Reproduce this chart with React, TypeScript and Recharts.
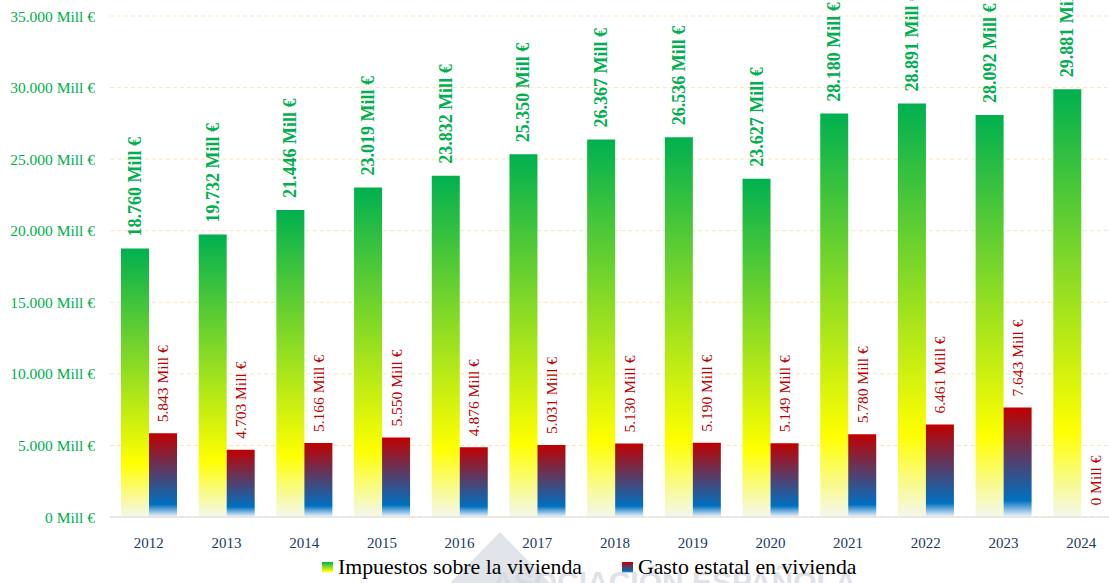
import React from 'react';
import { ComposedChart, Bar, XAxis, YAxis, CartesianGrid, Legend, LabelList, Cell } from 'recharts';

const years = ['2012', '2013', '2014', '2015', '2016', '2017', '2018', '2019', '2020', '2021', '2022', '2023', '2024'];
const impuestos = [18760, 19732, 21446, 23019, 23832, 25350, 26367, 26536, 23627, 28180, 28891, 28092, 29881];
const gasto = [5843, 4703, 5166, 5550, 4876, 5031, 5130, 5190, 5149, 5780, 6461, 7643, 0];
const yTicks = [0, 5000, 10000, 15000, 20000, 25000, 30000, 35000];
const seriesNames = ['Impuestos sobre la vivienda', 'Gasto estatal en vivienda'];

const data = years.map((y, i) => ({ year: y, impuestos: impuestos[i], gasto: gasto[i] }));

const FONT = "'Liberation Serif', 'DejaVu Serif', serif";
const GREEN = '#00b050';
const RED = '#c00000';

const fmt = (v: number) => String(v).replace(/\B(?=(\d{3})+(?!\d))/g, '.');

const makeLabel = (color: string, weight: string, size: number, gap: number) => (props: any) => {
  const { x, y, width, height, value } = props;
  const cx = Number(x) + Number(width) / 2;
  const top = Math.min(Number(y), Number(y) + Number(height || 0));
  const ty = top - gap;
  return (
    <text
      x={cx}
      y={ty}
      transform={`rotate(-90 ${cx} ${ty})`}
      textAnchor="start"
      dominantBaseline="central"
      fill={color}
      fontWeight={weight}
      fontSize={size}
      fontFamily={FONT}
    >
      {fmt(Number(value))} Mill €
    </text>
  );
};

const LegendContent = () => (
  <div
    style={{
      display: 'flex',
      justifyContent: 'flex-start',
      alignItems: 'center',
      height: 36,
      fontFamily: FONT,
      fontSize: 21.8,
      color: '#000',
      paddingTop: 4,
      paddingLeft: 322,
      boxSizing: 'border-box',
      whiteSpace: 'nowrap',
    }}
  >
    <span style={{ display: 'inline-block', width: 11, height: 11, background: 'linear-gradient(#00b050, #ffff00 85%, #ffffff)', marginRight: 5 }} />
    <span style={{ marginRight: 40 }}>{seriesNames[0]}</span>
    <span style={{ display: 'inline-block', width: 11, height: 11, background: 'linear-gradient(#c00000, #0070c0 85%, #ffffff)', marginRight: 5 }} />
    <span>{seriesNames[1]}</span>
  </div>
);

export default function App() {
  return (
    <div style={{ position: 'absolute', left: 0, top: 0, width: 1109, height: 583, background: '#fff', overflow: 'hidden' }}>
      <svg width={1109} height={583} style={{ position: 'absolute', left: 0, top: 0 }}>
        <polygon points="450,583 500,532 550,583" fill="#c9ced6" opacity={0.55} />
        <text x={492} y={592} fontFamily="'Liberation Sans', Arial, sans-serif" fontWeight="bold" fontSize={30} fill="#d3d7dd" opacity={0.7}>
          ASOCIACIÓN ESPAÑOLA
        </text>
      </svg>
      <div style={{ position: 'absolute', left: 0, top: 0 }}>
        <ComposedChart
          width={1109}
          height={583}
          data={data}
          margin={{ top: 16, right: -11, left: 0, bottom: 0 }}
          barGap={0}
        >
          <defs>
            <linearGradient id="gGreen" x1="0" y1="0" x2="0" y2="1">
              <stop offset="0%" stopColor="#00b050" />
              <stop offset="80%" stopColor="#ffff00" />
              <stop offset="100%" stopColor="#f4f7ee" />
            </linearGradient>
            <linearGradient id="gRed" x1="0" y1="0" x2="0" y2="1">
              <stop offset="0%" stopColor="#c00000" />
              <stop offset="85%" stopColor="#0070c0" />
              <stop offset="100%" stopColor="#f4f8fc" />
            </linearGradient>
          </defs>
          <CartesianGrid vertical={false} stroke="#fde6b8" strokeDasharray="4 3" />
          <XAxis
            dataKey="year"
            height={30}
            tickLine={false}
            axisLine={{ stroke: '#d9d9d9' }}
            tick={{ fill: '#1f3864', fontSize: 15, fontFamily: FONT }}
            tickMargin={14}
          />
          <YAxis
            width={110}
            domain={[0, 35000]}
            ticks={yTicks}
            interval={0}
            tickLine={false}
            axisLine={false}
            tickMargin={9}
            tickFormatter={(v: number) => `${fmt(v)} Mill €`}
            tick={{ fill: GREEN, fontSize: 15.5, fontFamily: FONT }}
          />
          <Legend verticalAlign="bottom" height={36} content={<LegendContent />} />
          <Bar dataKey="impuestos" name={seriesNames[0]} fill="url(#gGreen)" barSize={28} isAnimationActive={false}>
            <LabelList dataKey="impuestos" content={makeLabel(GREEN, 'bold', 18, 12)} />
          </Bar>
          <Bar dataKey="gasto" name={seriesNames[1]} fill="url(#gRed)" barSize={28} minPointSize={0.5} isAnimationActive={false}>
            {gasto.map((v, i) => (
              <Cell key={`c-${i}`} fill={v === 0 ? 'none' : 'url(#gRed)'} />
            ))}
            <LabelList dataKey="gasto" content={makeLabel(RED, 'normal', 15.5, 11)} />
          </Bar>
        </ComposedChart>
      </div>
    </div>
  );
}
